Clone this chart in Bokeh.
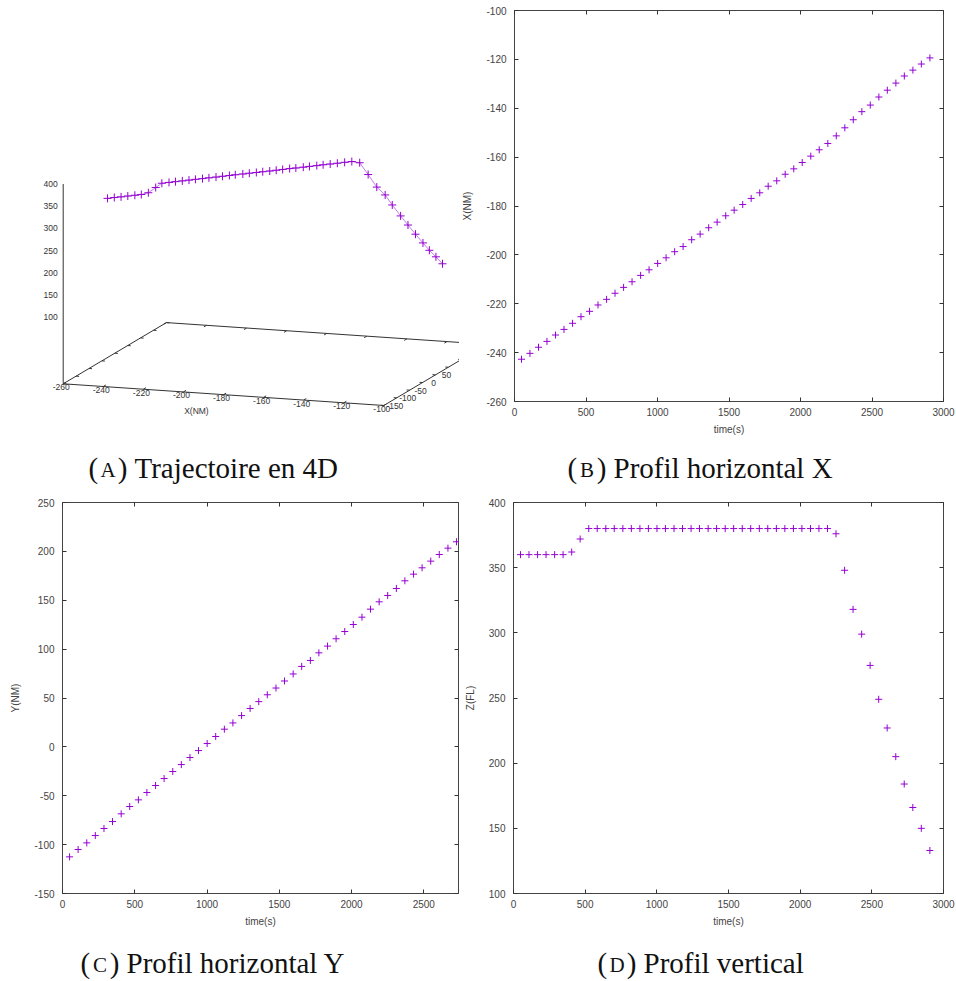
import numpy as np
from bokeh.plotting import figure
from bokeh.layouts import column, row
from bokeh.models import (Range1d, SingleIntervalTicker, LinearAxis, PrintfTickFormatter,
                          CustomJSTickFormatter)
from bokeh.core.properties import value
from bokeh.embed import file_html
from bokeh.resources import INLINE

# ---------------- data ----------------
time_s = [49, 108, 168, 227, 287, 346, 406, 465, 525, 584, 644, 703, 763, 822,
          882, 941, 1001, 1060, 1120, 1179, 1239, 1298, 1358, 1417, 1477, 1536,
          1596, 1655, 1715, 1774, 1834, 1893, 1953, 2012, 2072, 2131, 2191, 2250,
          2310, 2369, 2429, 2488, 2548, 2607, 2667, 2726, 2786, 2845, 2905]

x_nm = [-242.7, -240.3, -237.8, -235.4, -232.8, -230.5, -228.0, -225.3, -223.1,
        -220.5, -218.2, -215.7, -213.3, -211.0, -208.4, -206.1, -203.5, -201.2,
        -198.7, -196.6, -193.8, -191.5, -188.9, -186.6, -184.0, -181.7, -179.4,
        -176.9, -174.6, -171.9, -169.7, -167.0, -164.8, -162.2, -159.6, -157.0,
        -154.4, -151.3, -148.0, -144.7, -141.4, -138.7, -135.4, -132.6, -129.7,
        -126.8, -124.4, -121.9, -119.4]

y_nm = [-112.5, -105.0, -98.2, -90.7, -83.5, -76.4, -68.5, -61.0, -54.2, -46.7,
        -39.5, -32.4, -25.2, -18.1, -10.9, -3.8, 3.4, 10.6, 18.1, 24.5, 32.0,
        39.3, 46.3, 53.3, 60.2, 67.4, 74.6, 82.3, 88.4, 96.2, 103.1, 110.6, 118.0,
        125.2, 132.7, 140.9, 148.4, 154.9, 162.0, 169.9, 176.7, 183.2, 190.0,
        196.8, 203.3, 209.8, 216.0, 222.0, 228.0]

z_fl = [360, 360, 360, 360, 360, 360, 362, 372, 380, 380, 380, 380, 380, 380,
        380, 380, 380, 380, 380, 380, 380, 380, 380, 380, 380, 380, 380, 380,
        380, 380, 380, 380, 380, 380, 380, 380, 380, 376, 348, 318, 299, 275,
        249, 227, 205, 184, 166, 150, 133]

# 3D axis ranges / ticks
x3_range = (-260, -100)
y3_range = (-150, 250)
z3_range = (100, 400)
x3_ticks = [-260, -240, -220, -200, -180, -160, -140, -120, -100]
y3_ticks = [-150, -100, -50, 0, 50, 100, 150, 200, 250]
z3_ticks = [100, 150, 200, 250, 300, 350, 400]

captions = [("A", "Trajectoire en 4D"), ("B", "Profil horizontal X"),
            ("C", "Profil horizontal Y"), ("D", "Profil vertical")]

# ---------------- style ----------------
PURPLE = "#9400D3"
AXC = "#333333"
TXT = "#444444"
SANS = "Liberation Sans"
SERIF = "Liberation Serif"

# ---------------- panel A : 3D view (orthographic projection) ----------------
AW, AH = 459, 440
VIEW = dict(ox=62.7, oy=383.3, ax=2.004, bx=0.1356, ay=0.258, by=-0.153, bz=-0.444)
zbase = z3_range[0] - 0.5 * (z3_range[1] - z3_range[0])   # gnuplot ticslevel 0.5


def proj(x, y, z):
    x = np.asarray(x, float)
    y = np.asarray(y, float)
    z = np.asarray(z, float)
    dx = x - x3_range[0]
    dy = y - y3_range[0]
    px = VIEW["ox"] + VIEW["ax"] * dx + VIEW["ay"] * dy
    py = VIEW["oy"] + VIEW["bx"] * dx + VIEW["by"] * dy + VIEW["bz"] * (z - zbase)
    return px, py


pa = figure(width=AW, height=AH, x_range=Range1d(0, AW), y_range=Range1d(AH, 0),
            x_axis_type=None, y_axis_type=None, output_backend="svg",
            toolbar_location=None, min_border=0, outline_line_color=None,
            frame_align=False)
pa.grid.visible = False

x0, x1 = x3_range
y0, y1 = y3_range
edges = [((x0, y0), (x1, y0)), ((x1, y0), (x1, y1)), ((x0, y1), (x1, y1)), ((x0, y0), (x0, y1))]
xs, ys = [], []
for (a, b) in edges:
    px, py = proj([a[0], b[0]], [a[1], b[1]], [zbase, zbase])
    xs.append(list(px)); ys.append(list(py))
# vertical z axis
px, py = proj([x0, x0], [y0, y0], [zbase, z3_range[1]])
xs.append(list(px)); ys.append(list(py))
# tick marks
tly = 10.0
tlx = 1.5
for xt in x3_ticks:
    px, py = proj([xt, xt], [y0, y0 + tly], [zbase, zbase]); xs.append(list(px)); ys.append(list(py))
    px, py = proj([xt, xt], [y1, y1 - tly], [zbase, zbase]); xs.append(list(px)); ys.append(list(py))
for yt in y3_ticks:
    px, py = proj([x0, x0 + tlx], [yt, yt], [zbase, zbase]); xs.append(list(px)); ys.append(list(py))
    px, py = proj([x1, x1 - tlx], [yt, yt], [zbase, zbase]); xs.append(list(px)); ys.append(list(py))
pa.multi_line(xs, ys, line_color=AXC, line_width=1)

# tick labels
lx, ly = proj(x3_ticks, [y0] * len(x3_ticks), [zbase] * len(x3_ticks))
pa.text(lx - 2, ly + 3.5, text=[str(v) for v in x3_ticks], text_font=value(SANS),
        text_font_size="8.5px", text_color=AXC, text_align="center", text_baseline="middle")
lx, ly = proj([x1] * len(y3_ticks), y3_ticks, [zbase] * len(y3_ticks))
keep = [i for i in range(len(y3_ticks)) if lx[i] + 11 + 9 < AW]   # the view is cropped on the right
pa.text([lx[i] + 11 for i in keep], [ly[i] + 0.5 for i in keep],
        text=[str(y3_ticks[i]) for i in keep], text_font=value(SANS),
        text_font_size="8.5px", text_color=AXC, text_align="center", text_baseline="middle")
lx, ly = proj([x0] * len(z3_ticks), [y0] * len(z3_ticks), z3_ticks)
pa.text(lx - 5.5, ly, text=[str(v) for v in z3_ticks], text_font=value(SANS),
        text_font_size="8.5px", text_color=AXC, text_align="right", text_baseline="middle")
lx, ly = proj([(x0 + x1) / 2], [y0 - 0.2625 * (y1 - y0)], [zbase])
pa.text(lx, ly, text=["X(NM)"], text_font=value(SANS), text_font_size="8.5px",
        text_color=AXC, text_align="center", text_baseline="middle")

# trajectory
tx, ty = proj(x_nm, y_nm, z_fl)
pa.line(tx, ty, line_color=PURPLE, line_alpha=0.5, line_width=1)
pa.scatter(tx, ty, marker="cross", size=8, line_color=PURPLE, line_width=1)


# ---------------- 2D profile panels ----------------
def profile(t, v, xr, yr, xtick, ytick, ylabel, width, height, bl, br, bt, bb):
    p = figure(width=width, height=height, x_range=Range1d(*xr), y_range=Range1d(*yr),
               output_backend="svg", toolbar_location=None, frame_align=False,
               min_border_left=bl, min_border_right=br, min_border_top=bt, min_border_bottom=bb)
    p.grid.visible = False
    p.outline_line_color = "#444444"
    p.outline_line_width = 1
    p.background_fill_color = "white"
    p.border_fill_color = "white"
    p.xaxis.ticker = SingleIntervalTicker(interval=xtick, num_minor_ticks=0)
    p.yaxis.ticker = SingleIntervalTicker(interval=ytick, num_minor_ticks=0)
    for ax in (p.xaxis[0], p.yaxis[0]):
        ax.formatter = PrintfTickFormatter(format="%d")
        ax.axis_line_color = None
        ax.major_tick_in = 4
        ax.major_tick_out = 0
        ax.major_tick_line_color = AXC
        ax.minor_tick_line_color = None
        ax.major_label_text_font = SANS
        ax.major_label_text_font_size = "10px"
        ax.major_label_text_color = TXT
        ax.axis_label_text_font = SANS
        ax.axis_label_text_font_size = "10px"
        ax.axis_label_text_font_style = "normal"
        ax.axis_label_text_color = TXT
    p.xaxis.axis_label = "time(s)"
    p.xaxis.major_label_standoff = 6
    p.xaxis.axis_label_standoff = 5
    p.yaxis.axis_label = ylabel
    p.yaxis.major_label_standoff = 8
    p.yaxis.axis_label_standoff = 10
    for side, itv in (("above", xtick), ("right", ytick)):
        m = LinearAxis(ticker=SingleIntervalTicker(interval=itv, num_minor_ticks=0),
                       formatter=CustomJSTickFormatter(code="return ''"),
                       axis_line_color=None, major_tick_in=4, major_tick_out=0,
                       major_tick_line_color=AXC, minor_tick_line_color=None,
                       major_label_standoff=0)
        p.add_layout(m, side)
    p.scatter(t, v, marker="cross", size=7, line_color=PURPLE, line_width=1)
    return p


pb = profile(time_s, x_nm, (0, 3000), (-260, -100), 500, 20, "X(NM)",
             956 - AW, AH, 52, 13, 10, 39)
pc = profile(time_s, y_nm, (0, 2740), (-150, 250), 500, 50, "Y(NM)",
             461, 445, 62, 3, 12, 42)
pd = profile(time_s, z_fl, (0, 3000), (100, 400), 500, 50, "Z(FL)",
             495, 445, 50, 13, 12, 42)


# ---------------- captions ----------------
def caption_fig(top, height, items):
    c = figure(width=956, height=height, x_range=Range1d(0, 956),
               y_range=Range1d(top + height, top), x_axis_type=None, y_axis_type=None,
               output_backend="svg", toolbar_location=None, min_border=0,
               outline_line_color=None, frame_align=False)
    c.grid.visible = False
    for (letter, text), xl, mid in items:
        c.text([xl], [mid], text=["("], text_font=value(SERIF), text_font_size="29px",
               text_color="#111111", text_align="left", text_baseline="middle")
        c.text([xl + 19.5], [mid + 2.5], text=[letter], text_font=value(SERIF),
               text_font_size="21px", text_color="#111111", text_align="center",
               text_baseline="middle")
        c.text([xl + 39], [mid], text=[")"], text_font=value(SERIF), text_font_size="29px",
               text_color="#111111", text_align="right", text_baseline="middle")
        c.text([xl + 46], [mid], text=[text], text_font=value(SERIF), text_font_size="29px",
               text_color="#111111", text_align="left", text_baseline="middle")
    return c


cap_top = caption_fig(440, 50, [(captions[0], 88, 467), (captions[1], 567, 467)])
cap_bot = caption_fig(935, 46, [(captions[2], 80, 962), (captions[3], 597, 962)])

layout = column(row(pa, pb), cap_top, row(pc, pd), cap_bot)
open("out.html", "w").write(file_html(layout, INLINE))
